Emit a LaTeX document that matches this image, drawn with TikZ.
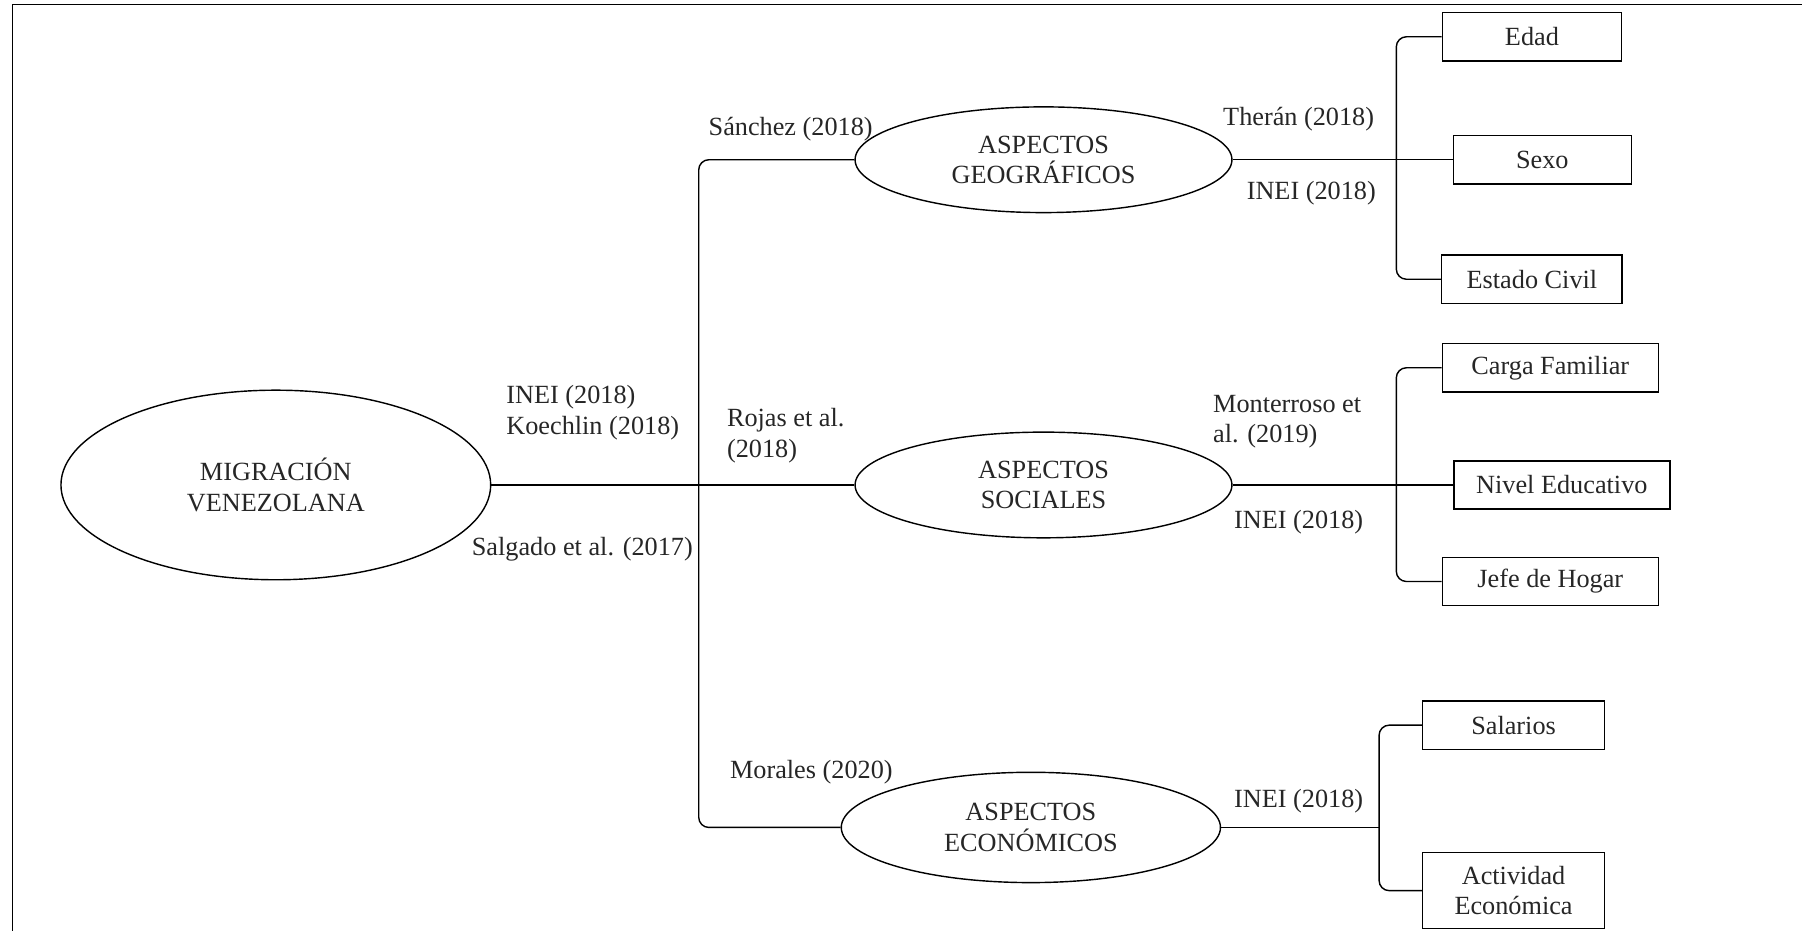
\documentclass[tikz,border=0pt]{standalone}
\usepackage{fontspec}
\setmainfont{Liberation Serif}
\usepackage{tikz}
\usetikzlibrary{positioning}
\usetikzlibrary{shapes.geometric}
\tikzset{>=latex}
\tikzset{
  every node/.style={font=\fontsize{13}{15}\selectfont, text=black!85},
  aspecto/.style={ellipse, draw, inner sep=0pt, align=center},
  caja/.style={rectangle, draw, inner sep=0pt, minimum height=0.84cm, align=center},
  cita/.style={align=left, inner sep=0pt},
}

\begin{document}
\begin{tikzpicture}[x=0.02cm, y=-0.02cm, line width=0.7pt]
\useasboundingbox (0,0) rectangle (1568,810);

% Frame
\draw (11,810) -- (11,4) -- (1568,4);

% Main topic
\node[aspecto, minimum width=7.48cm, minimum height=3.3cm] (mig) at (240,422) {MIGRACIÓN\\VENEZOLANA};

% Aspects
\node[aspecto, minimum width=6.56cm, minimum height=1.84cm] (geo) at (908,139) {ASPECTOS\\GEOGRÁFICOS};
\node[aspecto, minimum width=6.56cm, minimum height=1.84cm] (soc) at (908,422) {ASPECTOS\\SOCIALES};
\node[aspecto, minimum width=6.6cm, minimum height=1.92cm] (eco) at (897,720) {ASPECTOS\\ECONÓMICOS};

% Indicators
\node[caja, minimum width=3.12cm] (edad) at (1333,32) {Edad};
\node[caja, minimum width=3.1cm] (sexo) at (1342,139) {Sexo};
\node[caja, minimum width=3.14cm] (civil) at (1333,243) {Estado Civil};
\node[caja, minimum width=3.76cm] (carga) at (1349,320) {Carga Familiar};
\node[caja, minimum width=3.76cm] (nivel) at (1359,422) {Nivel Educativo};
\node[caja, minimum width=3.76cm] (jefe) at (1349,506) {Jefe de Hogar};
\node[caja, minimum width=3.16cm] (salario) at (1317,631) {Salarios};
\node[caja, minimum width=3.16cm, minimum height=1.32cm] (activ) at (1317,775) {Actividad\\Económica};

% Trunk
\coordinate (tronco) at (608,422);
\draw (mig.east) -- (soc.west);
\draw[rounded corners=5pt] (geo.west) -| (tronco) |- (eco.west);

% Branches
\coordinate (ramaG) at (1215,139);
\coordinate (ramaS) at (1215,422);
\coordinate (ramaE) at (1200,720);
\draw (geo.east) -- (sexo.west);
\draw[rounded corners=5pt] (edad.west) -| (ramaG) |- (civil.west);
\draw (soc.east) -- (nivel.west);
\draw[rounded corners=5pt] (carga.west) -| (ramaS) |- (jefe.west);
\draw (eco.east) -- (ramaE);
\draw[rounded corners=5pt] (salario.west) -| (ramaE) |- (activ.west);

% Citations
\node[cita, anchor=west] (c1) at (440,359) {INEI (2018)\\Koechlin (2018)};
\node[cita, anchor=west] (c2) at (410,478) {Salgado et al. (2017)};
\node[cita, anchor=west] (c3) at (632,379) {Rojas et al.\\(2018)};
\node[cita] (c4) at (688,112) {Sánchez (2018)};
\node[cita] (c5) at (706,672) {Morales (2020)};
\node[cita] (c6) at (1130,104) {Therán (2018)};
\node[cita] (c7) at (1141,168) {INEI (2018)};
\node[cita, anchor=west] (c8) at (1055,367) {Monterroso et\\al. (2019)};
\node[cita] (c9) at (1130,454) {INEI (2018)};
\node[cita] (c10) at (1130,697) {INEI (2018)};

\end{tikzpicture}
\end{document}
